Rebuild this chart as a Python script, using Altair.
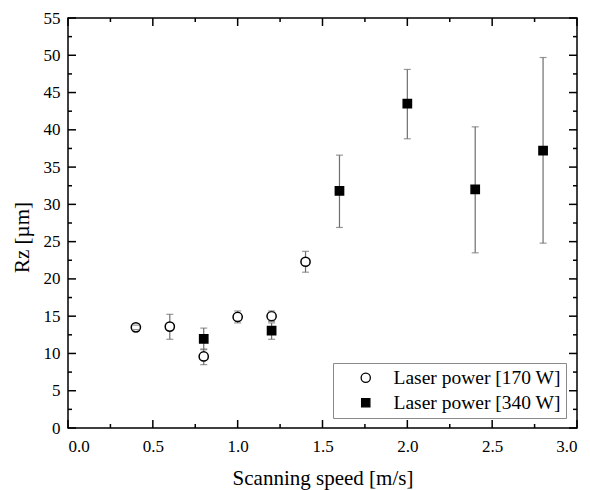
import altair as alt
import pandas as pd

# ---- data ----
speed_170 = [0.4, 0.6, 0.8, 1.0, 1.2, 1.4]
rz_170 = [13.5, 13.6, 9.6, 14.9, 15.0, 22.3]
lo_170 = [13.2, 11.9, 8.5, 14.1, 14.3, 20.9]
hi_170 = [13.8, 15.25, 10.6, 15.7, 15.7, 23.7]

speed_340 = [0.8, 1.2, 1.6, 2.0, 2.4, 2.8]
rz_340 = [11.95, 13.05, 31.8, 43.5, 32.0, 37.2]
lo_340 = [10.5, 11.9, 26.9, 38.8, 23.5, 24.8]
hi_340 = [13.4, 14.1, 36.6, 48.1, 40.4, 49.7]

series_names = ["Laser power [170 W]", "Laser power [340 W]"]

x_major = [0.0, 0.5, 1.0, 1.5, 2.0, 2.5, 3.0]
x_minor = [0.25, 0.75, 1.25, 1.75, 2.25, 2.75]
y_major = [0, 5, 10, 15, 20, 25, 30, 35, 40, 45, 50, 55]
y_minor = [2.5, 7.5, 12.5, 17.5, 22.5, 27.5, 32.5, 37.5, 42.5, 47.5, 52.5]

W, H = 509, 410
FONT = "Liberation Serif"
ERR = "#6e6e6e"

df = pd.DataFrame({
    "speed": speed_170 + speed_340,
    "rz": rz_170 + rz_340,
    "lo": lo_170 + lo_340,
    "hi": hi_170 + hi_340,
    "series": [series_names[0]] * len(speed_170) + [series_names[1]] * len(speed_340),
})

xscale = alt.Scale(domain=[0, 3], nice=False, zero=False)
yscale = alt.Scale(domain=[0, 55], nice=False, zero=False)

xaxis = alt.Axis(values=x_major, format=".1f", title="Scanning speed [m/s]",
                 ticks=False, domain=False, grid=False, labelPadding=10,
                 titleY=56, titleBaseline="alphabetic")
yaxis = alt.Axis(values=y_major, format="d", title="Rz [µm]",
                 ticks=False, domain=False, grid=False, labelPadding=8,
                 titleX=-40, titleY=219, titleBaseline="alphabetic", titleAlign="center")


def X(field):
    return alt.X(field, scale=xscale, axis=xaxis)


def Y(field):
    return alt.Y(field, scale=yscale, axis=yaxis)


base = alt.Chart(df)

err_rules = base.mark_rule(color=ERR, strokeWidth=1.2).encode(
    x=X("speed:Q"), y=Y("lo:Q"), y2="hi:Q",
)

points = base.mark_point(filled=False, strokeWidth=1.5, opacity=1).encode(
    x=X("speed:Q"),
    y=Y("rz:Q"),
    shape=alt.Shape("series:N", scale=alt.Scale(domain=series_names, range=["circle", "square"]),
                    title=None),
    fill=alt.Fill("series:N", scale=alt.Scale(domain=series_names, range=["white", "black"]),
                  title=None),
    stroke=alt.Stroke("series:N", scale=alt.Scale(domain=series_names, range=["black", "black"]),
                      title=None),
    size=alt.Size("series:N", scale=alt.Scale(domain=series_names, range=[85, 68]), title=None),
)

caps_lo = base.mark_tick(color=ERR, orient="horizontal", size=7, thickness=1.2).encode(
    x=X("speed:Q"), y=Y("lo:Q"))
caps_hi = base.mark_tick(color=ERR, orient="horizontal", size=7, thickness=1.2).encode(
    x=X("speed:Q"), y=Y("hi:Q"))


def xticks(vals, length):
    d = pd.DataFrame({"v": vals})
    bottom = alt.Chart(d).mark_rule(color="black", strokeWidth=1.5).encode(
        x=X("v:Q"), y=alt.value(H), y2=alt.value(H - length))
    top = alt.Chart(d).mark_rule(color="black", strokeWidth=1.5).encode(
        x=X("v:Q"), y=alt.value(0), y2=alt.value(length))
    return [bottom, top]


def yticks(vals, length):
    d = pd.DataFrame({"v": vals})
    left = alt.Chart(d).mark_rule(color="black", strokeWidth=1.5).encode(
        y=Y("v:Q"), x=alt.value(0), x2=alt.value(length))
    right = alt.Chart(d).mark_rule(color="black", strokeWidth=1.5).encode(
        y=Y("v:Q"), x=alt.value(W), x2=alt.value(W - length))
    return [left, right]


tick_layers = xticks(x_major, 8) + xticks(x_minor, 4) + yticks(y_major, 8) + yticks(y_minor, 4)

chart = alt.layer(err_rules, points, caps_lo, caps_hi, *tick_layers).properties(
    width=W, height=H,
    autosize=alt.AutoSizeParams(type="none"),
    padding={"left": 60, "top": 10, "right": 5, "bottom": 62},
).configure_view(
    stroke="black", strokeWidth=1.5
).configure_axis(
    labelFont=FONT, labelFontSize=17, labelColor="black",
    titleFont=FONT, titleFontSize=21, titleFontWeight="normal", titleColor="black",
).configure_legend(
    orient="none", legendX=265, legendY=345,
    strokeColor="#8a8a8a", fillColor="white", padding=5, cornerRadius=0,
    labelFont=FONT, labelFontSize=19.5, labelColor="black", labelLimit=400,
    symbolStrokeWidth=1.3,
    symbolOffset=18, labelOffset=18, rowPadding=4,
)

chart.save("out.html", embed_options={"renderer": "svg", "actions": False})
